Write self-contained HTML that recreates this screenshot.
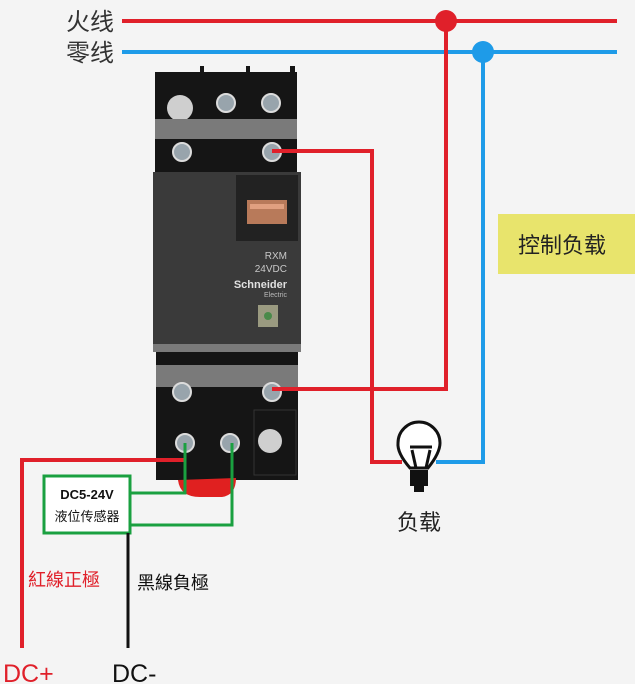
<!DOCTYPE html>
<html><head><meta charset="utf-8"><style>
html,body{margin:0;padding:0;background:#f4f4f4}
svg{display:block}
text{font-family:"Liberation Sans","Noto Sans CJK SC",sans-serif}
</style></head><body>
<svg width="635" height="684" viewBox="0 0 635 684" xmlns="http://www.w3.org/2000/svg">
<rect width="635" height="684" fill="#f4f4f4"/>
<!-- relay base top -->
<rect x="155" y="72" width="142" height="105" fill="#151515"/>
<rect x="200" y="66" width="4" height="8" fill="#151515"/>
<rect x="246" y="66" width="4" height="8" fill="#151515"/>
<rect x="290" y="66" width="5" height="8" fill="#151515"/>
<circle cx="180" cy="108" r="13" fill="#cfcfcf"/>
<rect x="155" y="119" width="142" height="20" fill="#7a7a7a"/>
<!-- relay module -->
<rect x="153" y="172" width="148" height="180" fill="#3a3a3a"/>
<rect x="236" y="175" width="62" height="66" fill="#222"/>
<rect x="247" y="200" width="40" height="24" fill="#b87a5a"/>
<rect x="250" y="204" width="34" height="5" fill="#e0a080"/>
<text x="287" y="259" fill="#c8c8c8" font-size="10" text-anchor="end">RXM</text>
<text x="287" y="272" fill="#c8c8c8" font-size="10" text-anchor="end">24VDC</text>
<text x="287" y="288" fill="#e0e0e0" font-size="11" font-weight="bold" text-anchor="end">Schneider</text>
<text x="287" y="297" fill="#bbb" font-size="7" text-anchor="end">Electric</text>
<rect x="258" y="305" width="20" height="22" fill="#9a9a80"/>
<circle cx="268" cy="316" r="4" fill="#4a8a4a"/>
<rect x="153" y="344" width="148" height="8" fill="#7a7a7a"/>
<!-- lower base -->
<rect x="156" y="352" width="142" height="128" fill="#151515"/>
<rect x="156" y="365" width="142" height="22" fill="#7a7a7a"/>
<rect x="254" y="410" width="42" height="65" fill="#151515" stroke="#333"/>
<circle cx="270" cy="441" r="12" fill="#cfcfcf"/>
<path d="M178 480 Q180 497 200 497 L222 497 Q236 495 236 478 Z" fill="#e02020"/>
<!-- screws -->
<g fill="#98a4ac" stroke="#dcdcdc" stroke-width="2">
<circle cx="226" cy="103" r="9"/><circle cx="271" cy="103" r="9"/>
<circle cx="182" cy="152" r="9"/><circle cx="272" cy="152" r="9"/>
<circle cx="182" cy="392" r="9"/><circle cx="272" cy="392" r="9"/>
<circle cx="185" cy="443" r="9"/><circle cx="230" cy="443" r="9"/>
</g>
<!-- mains lines -->
<line x1="122" y1="21" x2="617" y2="21" stroke="#e0202a" stroke-width="4"/>
<line x1="122" y1="52" x2="617" y2="52" stroke="#1e9be8" stroke-width="4"/>
<text x="66" y="30" font-size="24" fill="#333">火线</text>
<text x="66" y="61" font-size="24" fill="#333">零线</text>
<circle cx="446" cy="21" r="11" fill="#e0202a"/>
<circle cx="483" cy="52" r="11" fill="#1e9be8"/>
<!-- red load wiring -->
<polyline points="446,21 446,389 272,389" fill="none" stroke="#e0202a" stroke-width="4"/>
<polyline points="272,151 372,151 372,462 402,462" fill="none" stroke="#e0202a" stroke-width="4"/>
<polyline points="436,462 483,462 483,52" fill="none" stroke="#1e9be8" stroke-width="4"/>
<!-- bulb -->
<g fill="none" stroke="#111" stroke-width="3">
<path d="M410 468 Q397 453 398 443 A21 21 0 1 1 440 443 Q440 453 428 468 Z" fill="#fff"/>
<path d="M412 450 L416 468 M426 468 L430 450 M410 447 L432 447"/>
</g>
<rect x="410" y="470" width="18" height="16" fill="#111"/>
<rect x="414" y="486" width="10" height="6" fill="#111"/>
<text x="419" y="530" font-size="22" fill="#222" text-anchor="middle">负载</text>
<!-- yellow box -->
<rect x="498" y="214" width="137" height="60" fill="#e8e46c"/>
<text x="518" y="253" font-size="22" fill="#222">控制负载</text>
<!-- sensor wiring -->
<polyline points="185,460 22,460 22,648" fill="none" stroke="#e0202a" stroke-width="4"/>
<polyline points="185,443 185,493 130,493" fill="none" stroke="#1aa040" stroke-width="3"/>
<polyline points="232,443 232,525 130,525" fill="none" stroke="#1aa040" stroke-width="3"/>
<rect x="44" y="476" width="86" height="57" fill="#fff" stroke="#1aa040" stroke-width="3"/>
<text x="87" y="499" font-size="13" font-weight="bold" fill="#111" text-anchor="middle">DC5-24V</text>
<text x="87" y="521" font-size="13" fill="#111" text-anchor="middle">液位传感器</text>
<line x1="128" y1="533" x2="128" y2="648" stroke="#111" stroke-width="3"/>
<text x="28" y="586" font-size="18" fill="#e0202a">紅線正極</text>
<text x="137" y="589" font-size="18" fill="#111">黑線負極</text>
<text x="3" y="682" font-size="25" fill="#e0202a">DC+</text>
<text x="112" y="682" font-size="25" fill="#111">DC-</text>
</svg>
</body></html>
